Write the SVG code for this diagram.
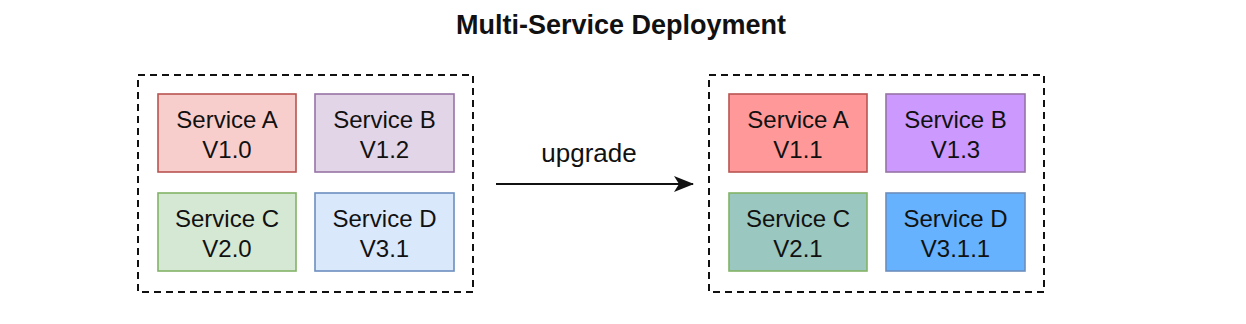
<svg xmlns="http://www.w3.org/2000/svg" width="1246" height="324" viewBox="0 0 1246 324">
<style>
text{font-family:"Liberation Sans",Arial,Helvetica,sans-serif;fill:#111}
.title{font-size:27px;font-weight:bold;text-anchor:middle}
.lbl{font-size:24px;text-anchor:middle}
.up{font-size:26px;text-anchor:middle}
.grp{fill:none;stroke:#111;stroke-width:2;stroke-dasharray:7 5}
.svc{stroke-width:1.6}
</style>
<defs>
<marker id="ah" viewBox="0 0 20 16" refX="19" refY="8" markerWidth="20" markerHeight="16" markerUnits="userSpaceOnUse" orient="auto">
<path d="M0,0 L20,8 L0,16 L5,8 Z" fill="#111"/>
</marker>
</defs>
<rect width="1246" height="324" fill="#fff"/>
<text class="title" x="621" y="34">Multi-Service Deployment</text>
<g id="old-group">
<rect class="grp" x="138" y="75" width="335" height="217"/>
</g>
<g id="new-group">
<rect class="grp" x="709" y="75" width="335" height="217"/>
</g>
<g id="old-a"><rect class="svc" x="158" y="94" width="138" height="78" fill="#f8cecc" stroke="#b85450"/><text class="lbl" x="227" y="128">Service A</text><text class="lbl" x="227" y="158">V1.0</text></g>
<g id="old-b"><rect class="svc" x="315" y="94" width="139" height="78" fill="#e1d5e7" stroke="#9673a6"/><text class="lbl" x="384.5" y="128">Service B</text><text class="lbl" x="384.5" y="158">V1.2</text></g>
<g id="old-c"><rect class="svc" x="158" y="193" width="138" height="78" fill="#d5e8d4" stroke="#82b366"/><text class="lbl" x="227" y="227">Service C</text><text class="lbl" x="227" y="257">V2.0</text></g>
<g id="old-d"><rect class="svc" x="315" y="193" width="139" height="78" fill="#dae8fc" stroke="#6c8ebf"/><text class="lbl" x="384.5" y="227">Service D</text><text class="lbl" x="384.5" y="257">V3.1</text></g>
<g id="new-a"><rect class="svc" x="729" y="94" width="138" height="78" fill="#ff9999" stroke="#b85450"/><text class="lbl" x="798" y="128">Service A</text><text class="lbl" x="798" y="158">V1.1</text></g>
<g id="new-b"><rect class="svc" x="886" y="94" width="139" height="78" fill="#cc99ff" stroke="#9673a6"/><text class="lbl" x="955.5" y="128">Service B</text><text class="lbl" x="955.5" y="158">V1.3</text></g>
<g id="new-c"><rect class="svc" x="729" y="193" width="138" height="78" fill="#9ac7bf" stroke="#82b366"/><text class="lbl" x="798" y="227">Service C</text><text class="lbl" x="798" y="257">V2.1</text></g>
<g id="new-d"><rect class="svc" x="886" y="193" width="139" height="78" fill="#66b2ff" stroke="#6c8ebf"/><text class="lbl" x="955.5" y="227">Service D</text><text class="lbl" x="955.5" y="257">V3.1.1</text></g>
<g id="connectors">
<line x1="496" y1="184" x2="693" y2="184" stroke="#111" stroke-width="2" marker-end="url(#ah)"/>
<text class="up" x="589" y="162">upgrade</text>
</g>
</svg>
